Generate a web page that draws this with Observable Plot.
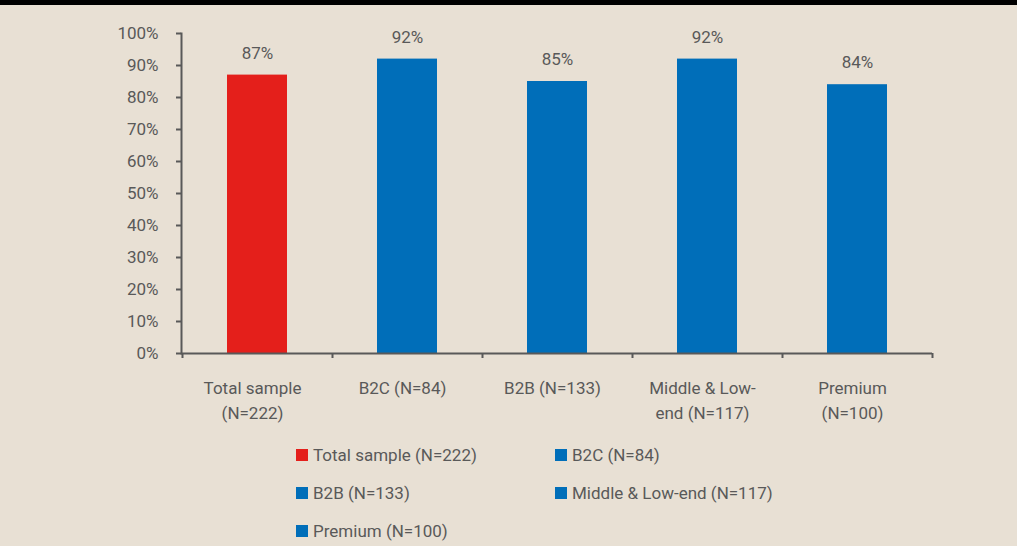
<!DOCTYPE html>
<html>
<head>
<meta charset="utf-8">
<script src="https://cdn.jsdelivr.net/npm/d3@7"></script>
<script src="https://cdn.jsdelivr.net/npm/@observablehq/plot@0.6"></script>
<style>
  html, body { margin: 0; padding: 0; background: #E8E0D4; }
  body { width: 1017px; height: 546px; overflow: hidden; font-family: Roboto, "DejaVu Sans Condensed", sans-serif; }
  #topbar { height: 5px; background: #000; }
  #legend { display: grid; grid-template-columns: 259px 259px; margin-left: 296px; margin-top: 6px; }
  .item { height: 38px; display: flex; align-items: center; font-size: 17px; color: #595959; }
  .sw { width: 12px; height: 12px; margin-right: 5px; flex: none; }
</style>
</head>
<body>
<div id="topbar"></div>
<div id="chart"></div>
<div id="legend"></div>
<script>
const categories = ["Total sample (N=222)", "B2C (N=84)", "B2B (N=133)", "Middle & Low-end (N=117)", "Premium (N=100)"];
const tickLabels = ["Total sample\n(N=222)", "B2C (N=84)", "B2B (N=133)", "Middle & Low-\nend (N=117)", "Premium\n(N=100)"];
const values = [0.87, 0.92, 0.85, 0.92, 0.84];
const colors = ["#E41F1B", "#006EB9", "#006EB9", "#006EB9", "#006EB9"];
const yTicks = [0, 0.1, 0.2, 0.3, 0.4, 0.5, 0.6, 0.7, 0.8, 0.9, 1.0];

const data = categories.map((c, i) => ({category: c, value: values[i], label: tickLabels[i]}));
const pct = d3.format(".0%");
const ink = "#595959";
const fs = 17;

const plot = Plot.plot({
  width: 1017,
  height: 425,
  marginTop: 28,
  marginBottom: 77,
  marginLeft: 181,
  marginRight: 85,
  style: {background: "transparent", fontFamily: "Roboto, 'DejaVu Sans Condensed', sans-serif", fontSize: fs + "px", color: ink},
  x: {domain: categories, paddingInner: 0.6, paddingOuter: 0.3, label: null},
  y: {domain: [0, 1], label: null},
  color: {domain: categories, range: colors},
  marks: [
    Plot.barY(data, {x: "category", y: "value", fill: "category"}),
    Plot.text(data, {x: "category", y: "value", text: d => pct(d.value), dy: -22, fill: ink, fontSize: fs}),
    Plot.axisY({ticks: yTicks, tickFormat: pct, tickSize: 5, tickPadding: 18, stroke: ink, strokeWidth: 2, fill: ink, fontSize: fs}),
    Plot.axisX({tickSize: 0, tickPadding: 23, dx: -5, tickFormat: c => tickLabels[categories.indexOf(c)], fill: ink, fontSize: fs, lineHeight: 1.47}),
    Plot.axisX({tickSize: 5, fill: "none", dx: -75, stroke: ink, strokeWidth: 2}),
    Plot.axisX({ticks: [categories[categories.length - 1]], tickSize: 5, fill: "none", dx: 75, stroke: ink, strokeWidth: 2}),
    Plot.frame({anchor: "left", stroke: ink, strokeWidth: 2}),
    Plot.ruleY([0], {stroke: ink, strokeWidth: 2})
  ]
});
document.getElementById("chart").appendChild(plot);

const legend = document.getElementById("legend");
categories.forEach((c, i) => {
  const item = document.createElement("div");
  item.className = "item";
  const sw = document.createElement("span");
  sw.className = "sw";
  sw.style.background = colors[i];
  item.appendChild(sw);
  item.appendChild(document.createTextNode(c));
  legend.appendChild(item);
});
</script>
</body>
</html>
